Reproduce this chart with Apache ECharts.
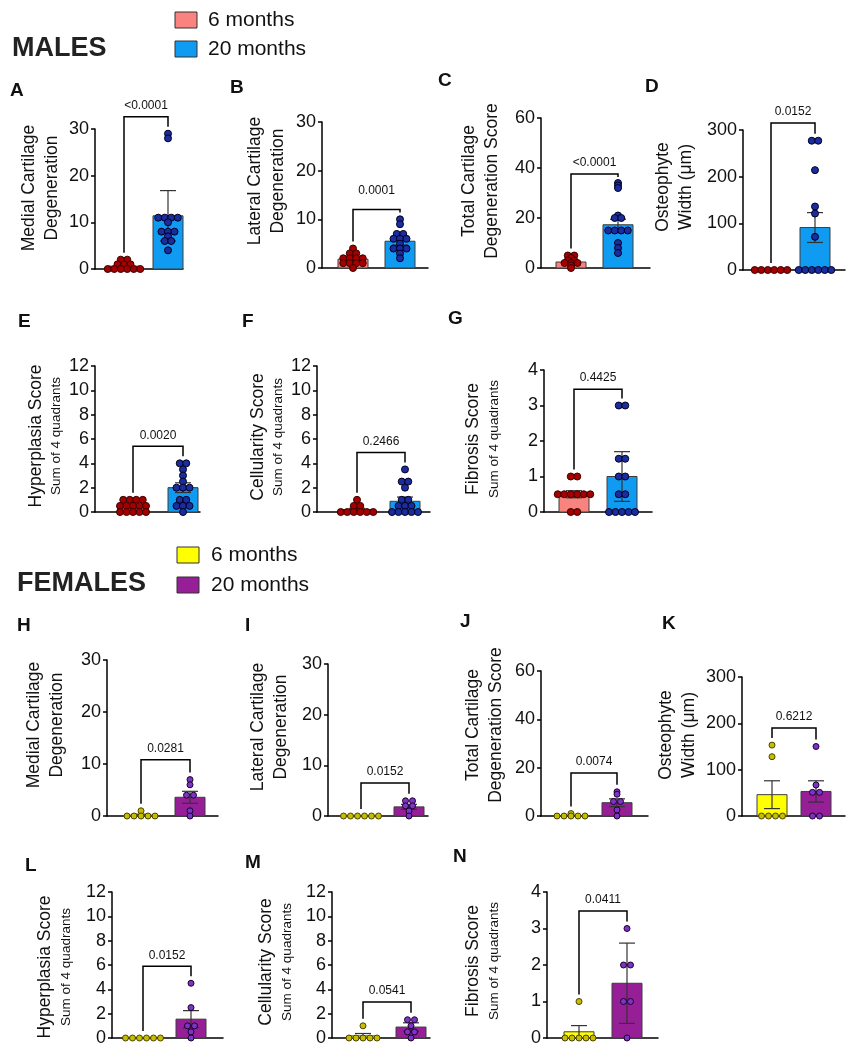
<!DOCTYPE html>
<html><head><meta charset="utf-8">
<script src="https://cdn.jsdelivr.net/npm/echarts@6/dist/echarts.min.js"></script>
<style>html,body{margin:0;padding:0;background:#fff}#c{width:856px;height:1050px}</style>
</head><body><div id="c"></div>
<script>
// ---------------- DATA ----------------
const groupLabels = ['6 months', '20 months'];
const sectionTitles = ['MALES', 'FEMALES'];

// MALES
const A_title = ['Medial Cartilage', 'Degeneration'];
const A_ticks = [0, 10, 20, 30];
const A_six = [2, 2, 1, 1, 1, 0, 0, 0, 0, 0, 0];
const A_twenty = [29, 28, 11, 11, 11, 11, 10, 8, 8, 8, 7, 6, 6, 4];
const A_mean = [0.6, 11.4];
const A_err = [0.8, 5.4];
const A_p = '<0.0001';
const A_bracket = 32.6;

const B_title = ['Lateral Cartilage', 'Degeneration'];
const B_ticks = [0, 10, 20, 30];
const B_six = [4, 3, 3, 2, 2, 2, 2, 1, 1, 1, 1, 0];
const B_twenty = [10, 9, 7, 7, 6, 6, 6, 5, 4, 4, 4, 3, 2];
const B_mean = [1.8, 5.5];
const B_err = [0.35, 0.8];
const B_p = '0.0001';
const B_bracket = 12;

const C_title = ['Total Cartilage', 'Degeneration Score'];
const C_ticks = [0, 20, 40, 60];
const C_six = [5, 5, 4, 3, 3, 2, 2, 2, 1, 0];
const C_twenty = [34, 33, 32, 21, 20, 20, 15, 15, 15, 15, 10, 8, 6];
const C_mean = [2.4, 17.3];
const C_err = [0.6, 2.2];
const C_p = '<0.0001';
const C_bracket = 37.6;

const D_title = ['Osteophyte', 'Width (\u03bcm)'];
const D_ticks = [0, 100, 200, 300];
const D_six = [0, 0, 0, 0, 0, 0];
const D_twenty = [277, 277, 214, 136, 121, 71, 0, 0, 0, 0, 0, 0];
const D_mean = [0, 91];
const D_err = [0, 32];
const D_p = '0.0152';
const D_bracket = 315;

const E_title = ['Hyperplasia Score', 'Sum of 4 quadrants'];
const E_ticks = [0, 2, 4, 6, 8, 10, 12];
const E_six = [1, 1, 1, 1, 0.5, 0.5, 0.5, 0.5, 0.5, 0, 0, 0, 0, 0];
const E_twenty = [4, 4, 3.5, 3, 2.5, 2, 2, 2, 1, 1, 0.5, 0.5, 0.5, 0];
const E_mean = [0.4, 2.0];
const E_err = [0.1, 0.4];
const E_p = '0.0020';
const E_bracket = 5.4;

const F_title = ['Cellularity Score', 'Sum of 4 quadrants'];
const F_ticks = [0, 2, 4, 6, 8, 10, 12];
const F_six = [1, 0.5, 0.5, 0, 0, 0, 0, 0, 0];
const F_twenty = [3.5, 2.5, 2.5, 2, 1, 1, 0.5, 0.5, 0.5, 0, 0, 0, 0, 0];
const F_mean = [0.2, 0.88];
const F_err = [0.1, 0.35];
const F_p = '0.2466';
const F_bracket = 4.9;

const G_title = ['Fibrosis Score', 'Sum of 4 quadrants'];
const G_ticks = [0, 1, 2, 3, 4];
const G_six = [1, 1, 0.5, 0.5, 0.5, 0.5, 0.5, 0.5, 0, 0];
const G_twenty = [3, 3, 1.5, 1.5, 1, 1, 0.5, 0.5, 0, 0, 0, 0, 0];
const G_mean = [0.5, 1.0];
const G_err = [0.1, 0.7];
const G_p = '0.4425';
const G_bracket = 3.46;

// FEMALES
const H_title = ['Medial Cartilage', 'Degeneration'];
const H_ticks = [0, 10, 20, 30];
const H_six = [1, 0, 0, 0, 0, 0];
const H_twenty = [7, 6, 4, 4, 1, 0];
const H_mean = [0.17, 3.6];
const H_err = [0.17, 1.15];
const H_p = '0.0281';
const H_bracket = 10.8;

const I_title = ['Lateral Cartilage', 'Degeneration'];
const I_ticks = [0, 10, 20, 30];
const I_six = [0, 0, 0, 0, 0, 0];
const I_twenty = [3, 3, 2, 2, 1, 0];
const I_mean = [0, 1.8];
const I_err = [0, 0.5];
const I_p = '0.0152';
const I_bracket = 6.5;

const J_title = ['Total Cartilage', 'Degeneration Score'];
const J_ticks = [0, 20, 40, 60];
const J_six = [1, 0, 0, 0, 0, 0];
const J_twenty = [10, 9, 6, 6, 2.5, 0];
const J_mean = [0.17, 5.5];
const J_err = [0.17, 1.6];
const J_p = '0.0074';
const J_bracket = 17.8;

const K_title = ['Osteophyte', 'Width (\u03bcm)'];
const K_ticks = [0, 100, 200, 300];
const K_six = [153, 128, 0, 0, 0, 0];
const K_twenty = [150, 67, 51, 51, 0, 0];
const K_mean = [46, 53];
const K_err = [30, 23];
const K_p = '0.6212';
const K_bracket = 190;

const L_title = ['Hyperplasia Score', 'Sum of 4 quadrants'];
const L_ticks = [0, 2, 4, 6, 8, 10, 12];
const L_six = [0, 0, 0, 0, 0, 0];
const L_twenty = [4.5, 2.5, 1, 1, 0.5, 0];
const L_mean = [0, 1.55];
const L_err = [0, 0.7];
const L_p = '0.0152';
const L_bracket = 5.9;

const M_title = ['Cellularity Score', 'Sum of 4 quadrants'];
const M_ticks = [0, 2, 4, 6, 8, 10, 12];
const M_six = [1, 0, 0, 0, 0, 0];
const M_twenty = [1.5, 1.5, 1, 0.5, 0.5, 0];
const M_mean = [0.17, 0.9];
const M_err = [0.2, 0.35];
const M_p = '0.0541';
const M_bracket = 2.96;

const N_title = ['Fibrosis Score', 'Sum of 4 quadrants'];
const N_ticks = [0, 1, 2, 3, 4];
const N_six = [1, 0, 0, 0, 0, 0];
const N_twenty = [3, 2, 2, 1, 1, 0];
const N_mean = [0.17, 1.5];
const N_err = [0.17, 1.1];
const N_p = '0.0411';
const N_bracket = 3.48;

// ---------------- LAYOUT / STYLE ----------------
const FONT = '"Liberation Sans", Arial, Helvetica, sans-serif';
const LAYOUT = {
  A: {ax: 95,  top: 129, bot: 269, right: 183, c1: 124, c2: 168, letter: [10, 91],  title: [40.5, 188]},
  B: {ax: 322, top: 122, bot: 268, right: 428, c1: 353, c2: 400, letter: [230, 88], title: [267, 181], pGap: 13},
  C: {ax: 541, top: 118, bot: 268, right: 650, c1: 571, c2: 618, letter: [438, 81], title: [481, 181]},
  D: {ax: 743, top: 130, bot: 270, right: 845, c1: 771, c2: 815, letter: [645, 87], title: [675, 187]},
  E: {ax: 95,  top: 366, bot: 512, right: 200, c1: 133, c2: 183, letter: [18, 322], title: [44.5, 436]},
  F: {ax: 317, top: 366, bot: 512, right: 430, c1: 357, c2: 405, letter: [242, 322], title: [266.5, 437]},
  G: {ax: 544, top: 370, bot: 512, right: 652, c1: 574, c2: 622, letter: [448, 319], title: [482, 439]},
  H: {ax: 107, top: 660, bot: 816, right: 218, c1: 141, c2: 190, letter: [17, 626], title: [46, 725]},
  I: {ax: 328, top: 664, bot: 816, right: 428, c1: 361, c2: 409, letter: [245, 626], title: [270, 727]},
  J: {ax: 541, top: 671, bot: 816, right: 648, c1: 571, c2: 617, letter: [460, 622], title: [485, 725]},
  K: {ax: 742, top: 677, bot: 816, right: 845, c1: 772, c2: 816, letter: [662, 624], title: [678, 735]},
  L: {ax: 112, top: 892, bot: 1038, right: 223, c1: 143, c2: 191, letter: [25, 866], title: [54, 967]},
  M: {ax: 332, top: 892, bot: 1038, right: 430, c1: 363, c2: 411, letter: [245, 863], title: [275, 962]},
  N: {ax: 547, top: 892, bot: 1038, right: 658, c1: 579, c2: 627, letter: [453, 857], title: [482, 961]}
};
const STYLE = [
  {bar: ['#F8837F', '#0F9BF2'], dot: ['#A50000', '#1B2D9E'], dotBorder: ['#3a0000', '#000020'], dotSize: 7, spacing: 6.5},
  {bar: ['#FFFF00', '#961F97'], dot: ['#C6BC00', '#7E34C2'], dotBorder: ['#4a4400', '#1a0030'], dotSize: 6, spacing: 7}
];
const BAR_W = 30;

const panelDefs = [
  ['A', 0, A_title, A_ticks, A_six, A_twenty, A_mean, A_err, A_p, A_bracket],
  ['B', 0, B_title, B_ticks, B_six, B_twenty, B_mean, B_err, B_p, B_bracket],
  ['C', 0, C_title, C_ticks, C_six, C_twenty, C_mean, C_err, C_p, C_bracket],
  ['D', 0, D_title, D_ticks, D_six, D_twenty, D_mean, D_err, D_p, D_bracket],
  ['E', 0, E_title, E_ticks, E_six, E_twenty, E_mean, E_err, E_p, E_bracket],
  ['F', 0, F_title, F_ticks, F_six, F_twenty, F_mean, F_err, F_p, F_bracket],
  ['G', 0, G_title, G_ticks, G_six, G_twenty, G_mean, G_err, G_p, G_bracket],
  ['H', 1, H_title, H_ticks, H_six, H_twenty, H_mean, H_err, H_p, H_bracket],
  ['I', 1, I_title, I_ticks, I_six, I_twenty, I_mean, I_err, I_p, I_bracket],
  ['J', 1, J_title, J_ticks, J_six, J_twenty, J_mean, J_err, J_p, J_bracket],
  ['K', 1, K_title, K_ticks, K_six, K_twenty, K_mean, K_err, K_p, K_bracket],
  ['L', 1, L_title, L_ticks, L_six, L_twenty, L_mean, L_err, L_p, L_bracket],
  ['M', 1, M_title, M_ticks, M_six, M_twenty, M_mean, M_err, M_p, M_bracket],
  ['N', 1, N_title, N_ticks, N_six, N_twenty, N_mean, N_err, N_p, N_bracket]
];

// beeswarm-like rows: equal values are spread symmetrically around the group center
function swarm(values, center, unitPx, spacingPx) {
  const counts = new Map();
  values.forEach(v => counts.set(v, (counts.get(v) || 0) + 1));
  const out = [];
  counts.forEach((n, v) => {
    for (let k = 0; k < n; k++) out.push([center + (k - (n - 1) / 2) * spacingPx / unitPx, v]);
  });
  return out;
}

const grids = [], xAxes = [], yAxes = [], series = [], graphics = [];

panelDefs.forEach((d, i) => {
  const [id, sex, title, ticks, six, twenty, mean, err, p, bracket] = d;
  const L = LAYOUT[id], S = STYLE[sex];
  const u = L.c2 - L.c1;
  grids.push({left: L.ax, top: L.top, width: L.right - L.ax, height: L.bot - L.top, containLabel: false, outerBoundsMode: 'none'});
  xAxes.push({
    gridIndex: i, type: 'value', min: 1 - (L.c1 - L.ax) / u, max: 2 + (L.right - L.c2) / u,
    axisLine: {show: true, onZero: false, lineStyle: {color: '#000', width: 1.5}},
    axisTick: {show: false}, axisLabel: {show: false}, splitLine: {show: false}
  });
  yAxes.push({
    gridIndex: i, type: 'value', min: ticks[0], max: ticks[ticks.length - 1], interval: ticks[1] - ticks[0],
    axisLine: {show: true, lineStyle: {color: '#000', width: 1.5}},
    axisTick: {show: true, length: 4, inside: false, lineStyle: {color: '#000', width: 1.5}},
    axisLabel: {show: true, fontSize: 18, color: '#111', fontFamily: FONT, margin: 6},
    splitLine: {show: false}
  });
  // bars (means)
  series.push({
    type: 'custom', xAxisIndex: i, yAxisIndex: i, z: 1, clip: false, silent: true,
    data: [[1, mean[0]], [2, mean[1]]],
    renderItem: (params, api) => {
      const x = api.value(0), v = api.value(1);
      if (!v) return {type: 'group', children: []};
      const p0 = api.coord([x, 0]), p1 = api.coord([x, v]);
      return {type: 'rect', shape: {x: p0[0] - BAR_W / 2, y: p1[1], width: BAR_W, height: p0[1] - p1[1]},
        style: {fill: S.bar[params.dataIndex], stroke: '#3c3c3c', lineWidth: 1}};
    }
  });
  // error bars
  series.push({
    type: 'custom', xAxisIndex: i, yAxisIndex: i, z: 2, clip: false, silent: true,
    data: [[1, mean[0], err[0]], [2, mean[1], err[1]]],
    renderItem: (params, api) => {
      const x = api.value(0), m = api.value(1), e = api.value(2);
      if (!e) return {type: 'group', children: []};
      const t = api.coord([x, m + e]), b = api.coord([x, Math.max(0, m - e)]);
      const cap = 8, st = {stroke: '#333', lineWidth: 1.2};
      return {type: 'group', children: [
        {type: 'line', shape: {x1: t[0], y1: t[1], x2: b[0], y2: b[1]}, style: st},
        {type: 'line', shape: {x1: t[0] - cap, y1: t[1], x2: t[0] + cap, y2: t[1]}, style: st},
        {type: 'line', shape: {x1: b[0] - cap, y1: b[1], x2: b[0] + cap, y2: b[1]}, style: st}
      ]};
    }
  });
  // individual points
  [six, twenty].forEach((vals, g) => {
    series.push({
      type: 'scatter', xAxisIndex: i, yAxisIndex: i, z: 3, silent: true, clip: false,
      symbol: 'circle', symbolSize: S.dotSize,
      itemStyle: {color: S.dot[g], borderColor: S.dotBorder[g], borderWidth: 1, opacity: 1},
      data: swarm(vals, g + 1, u, S.spacing)
    });
  });
  // significance bracket
  const lTop = Math.max(Math.max(...six), mean[0] + err[0]);
  const rTop = Math.max(Math.max(...twenty), mean[1] + err[1]);
  const pGap = L.pGap || 5;
  series.push({
    type: 'custom', xAxisIndex: i, yAxisIndex: i, z: 4, clip: false, silent: true,
    data: [[1, 2, bracket, lTop, rTop]],
    renderItem: (params, api) => {
      const l = api.coord([api.value(0), api.value(2)]);
      const r = api.coord([api.value(1), api.value(2)]);
      const le = Math.max(api.coord([api.value(0), api.value(3)])[1] - 7, l[1] + 3);
      const re = Math.max(api.coord([api.value(1), api.value(4)])[1] - 7, r[1] + 3);
      return {type: 'group', children: [
        {type: 'polyline', shape: {points: [[l[0], le], [l[0], l[1]], [r[0], r[1]], [r[0], re]]},
          style: {stroke: '#000', lineWidth: 1.5, fill: null}},
        {type: 'text', x: (l[0] + r[0]) / 2, y: l[1] - pGap,
          style: {text: p, fontSize: 12, fontFamily: FONT, fill: '#111', align: 'center', verticalAlign: 'bottom'}}
      ]};
    }
  });
  // panel letter
  graphics.push({type: 'text', x: L.letter[0], y: L.letter[1],
    style: {text: id, fontSize: 19, fontWeight: 'bold', fontFamily: FONT, fill: '#111', align: 'left', verticalAlign: 'middle'}});
  // y-axis title (rotated)
  const sub = title[1].indexOf('Sum of') === 0;
  graphics.push({type: 'text', x: L.title[0], y: L.title[1], rotation: Math.PI / 2,
    style: sub ? {
      text: '{a|' + title[0] + '}\n{b|' + title[1] + '}',
      rich: {a: {fontSize: 17.5, fontFamily: FONT, fill: '#111', lineHeight: 24, align: 'center'},
             b: {fontSize: 13.5, fontFamily: FONT, fill: '#111', lineHeight: 17, align: 'center'}},
      align: 'center', verticalAlign: 'middle'
    } : {
      text: title[0] + '\n' + title[1], fontSize: 17.5, fontFamily: FONT, fill: '#111', lineHeight: 23,
      align: 'center', verticalAlign: 'middle'
    }});
});

// section titles and legends
const SECTION_POS = [{title: [12, 49], sq: [175, 12], sqStep: 29, txt: [208, 20]},
                     {title: [17, 584], sq: [177, 547], sqStep: 30, txt: [211, 555]}];
sectionTitles.forEach((t, s) => {
  const P = SECTION_POS[s];
  graphics.push({type: 'text', x: P.title[0], y: P.title[1],
    style: {text: t, fontSize: 27, fontWeight: 'bold', fontFamily: FONT, fill: '#222', align: 'left', verticalAlign: 'middle'}});
  groupLabels.forEach((g, k) => {
    graphics.push({type: 'rect', shape: {x: P.sq[0], y: P.sq[1] + k * P.sqStep, width: 22, height: 16},
      style: {fill: STYLE[s].bar[k], stroke: '#333', lineWidth: 1}});
    graphics.push({type: 'text', x: P.txt[0], y: P.txt[1] + k * P.sqStep,
      style: {text: g, fontSize: 21, fontFamily: FONT, fill: '#111', align: 'left', verticalAlign: 'middle'}});
  });
});

const chart = echarts.init(document.getElementById('c'), null, {renderer: 'canvas'});
chart.setOption({
  animation: false,
  backgroundColor: '#fff',
  grid: grids, xAxis: xAxes, yAxis: yAxes, series: series,
  graphic: {elements: graphics}
});
</script></body></html>
